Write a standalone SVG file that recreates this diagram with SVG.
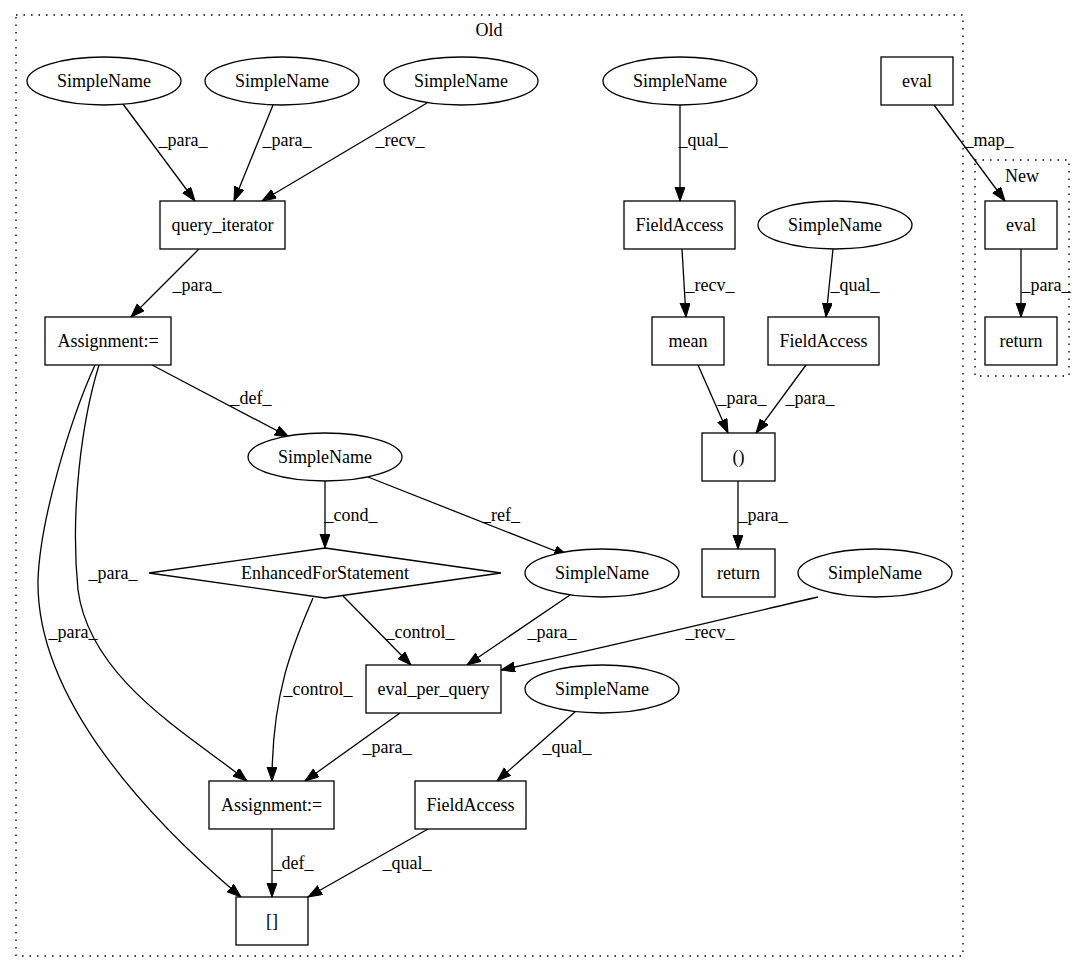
<svg xmlns="http://www.w3.org/2000/svg" width="1085" height="972" viewBox="0 0 1085 972">
<style>
text{font-family:"Liberation Serif","Times New Roman",serif;font-size:18px;fill:#000}
.n text{text-anchor:middle;dominant-baseline:central}
.e text{text-anchor:middle}
.n rect,.n ellipse,.n polygon{fill:#fff;stroke:#000;stroke-width:1.3}
.e path{fill:none;stroke:#000;stroke-width:1.3}
.cl{fill:none;stroke:#000;stroke-width:1.4;stroke-dasharray:1.5 6}
</style>
<defs>
<marker id="ah" markerUnits="userSpaceOnUse" markerWidth="15" markerHeight="11" refX="14" refY="5" orient="auto" viewBox="0 0 15 11">
<path d="M0,0 L14,5 L0,10 z" fill="#000" stroke="#000" stroke-width="1"/>
</marker>
</defs>
<rect width="1085" height="972" fill="#fff"/>
<g id="cluster_old"><rect class="cl" x="16" y="15" width="947" height="941"/><text x="489" y="36" text-anchor="middle">Old</text></g>
<g id="cluster_new"><rect class="cl" x="975" y="160" width="94" height="216"/><text x="1022" y="182" text-anchor="middle">New</text></g>

<g id="edges" class="e">
<path marker-end="url(#ah)" d="M123,104 L195,201"/>
<path marker-end="url(#ah)" d="M273,105 L234,201"/>
<path marker-end="url(#ah)" d="M427,103 L262,201"/>
<path marker-end="url(#ah)" d="M199,249 L131,317"/>
<path marker-end="url(#ah)" d="M152,365 L289,437"/>
<path marker-end="url(#ah)" d="M325,481 L325,548"/>
<path marker-end="url(#ah)" d="M368,477 L568,556"/>
<path marker-end="url(#ah)" d="M343,596 L411,665"/>
<path marker-end="url(#ah)" d="M570,595 L467,665"/>
<path marker-end="url(#ah)" d="M818,597 C760,610 640,640 501,670"/>
<path marker-end="url(#ah)" d="M313,598 C295,640 272,690 272,781"/>
<path marker-end="url(#ah)" d="M99,365 C82,420 70,510 78,590 C90,680 190,735 247,781"/>
<path marker-end="url(#ah)" d="M95,365 C70,420 40,520 38,580 C36,700 150,820 241,897"/>
<path marker-end="url(#ah)" d="M400,713 L305,781"/>
<path marker-end="url(#ah)" d="M576,711 L497,781"/>
<path marker-end="url(#ah)" d="M272,829 L272,897"/>
<path marker-end="url(#ah)" d="M428,829 L308,897"/>
<path marker-end="url(#ah)" d="M680,105 L680,201"/>
<path marker-end="url(#ah)" d="M682,249 L686,317"/>
<path marker-end="url(#ah)" d="M833,249 L826,317"/>
<path marker-end="url(#ah)" d="M698,365 L728,433"/>
<path marker-end="url(#ah)" d="M806,365 L756,433"/>
<path marker-end="url(#ah)" d="M738,481 L738,549"/>
<path marker-end="url(#ah)" d="M934,105 L1005,201"/>
<path marker-end="url(#ah)" d="M1021,249 L1021,317"/>
<text x="183" y="146">_para_</text>
<text x="287" y="146">_para_</text>
<text x="400" y="146">_recv_</text>
<text x="197" y="291">_para_</text>
<text x="251" y="404">_def_</text>
<text x="351" y="521">_cond_</text>
<text x="501" y="521">_ref_</text>
<text x="420" y="638">_control_</text>
<text x="552" y="638">_para_</text>
<text x="710" y="638">_recv_</text>
<text x="318" y="695">_control_</text>
<text x="113" y="579">_para_</text>
<text x="73" y="638">_para_</text>
<text x="387" y="753">_para_</text>
<text x="567" y="753">_qual_</text>
<text x="293" y="869">_def_</text>
<text x="407" y="869">_qual_</text>
<text x="703" y="146">_qual_</text>
<text x="710" y="291">_recv_</text>
<text x="855" y="291">_qual_</text>
<text x="742" y="404">_para_</text>
<text x="810" y="404">_para_</text>
<text x="763" y="521">_para_</text>
<text x="989" y="146">_map_</text>
<text x="1046" y="291">_para_</text>
</g>

<g id="n_sn1" class="n"><ellipse cx="104" cy="81" rx="77" ry="24"/><text x="104" y="81">SimpleName</text></g>
<g id="n_sn2" class="n"><ellipse cx="282" cy="81" rx="77" ry="24"/><text x="282" y="81">SimpleName</text></g>
<g id="n_sn3" class="n"><ellipse cx="461" cy="81" rx="77" ry="24"/><text x="461" y="81">SimpleName</text></g>
<g id="n_qi" class="n"><rect x="160" y="201" width="125" height="48"/><text x="222.5" y="225">query_iterator</text></g>
<g id="n_asg1" class="n"><rect x="45" y="317" width="126" height="48"/><text x="108" y="341">Assignment:=</text></g>
<g id="n_sndef" class="n"><ellipse cx="325" cy="457" rx="77" ry="24"/><text x="325" y="457">SimpleName</text></g>
<g id="n_efs" class="n"><polygon points="325,548 501,573 325,598 149,573"/><text x="325" y="573">EnhancedForStatement</text></g>
<g id="n_snref" class="n"><ellipse cx="602" cy="573" rx="77" ry="24"/><text x="602" y="573">SimpleName</text></g>
<g id="n_snrecv" class="n"><ellipse cx="875" cy="573" rx="77" ry="24"/><text x="875" y="573">SimpleName</text></g>
<g id="n_epq" class="n"><rect x="366" y="665" width="135" height="48"/><text x="433.5" y="689">eval_per_query</text></g>
<g id="n_snqual" class="n"><ellipse cx="602" cy="689" rx="77" ry="24"/><text x="602" y="689">SimpleName</text></g>
<g id="n_asg2" class="n"><rect x="209" y="781" width="125" height="48"/><text x="271.5" y="805">Assignment:=</text></g>
<g id="n_fa3" class="n"><rect x="415" y="781" width="111" height="48"/><text x="470.5" y="805">FieldAccess</text></g>
<g id="n_idx" class="n"><rect x="236" y="897" width="72" height="48"/><text x="272" y="921">[]</text></g>
<g id="n_sn4" class="n"><ellipse cx="680" cy="81" rx="77" ry="24"/><text x="680" y="81">SimpleName</text></g>
<g id="n_fa1" class="n"><rect x="624" y="201" width="111" height="48"/><text x="679.5" y="225">FieldAccess</text></g>
<g id="n_sn5" class="n"><ellipse cx="835" cy="225" rx="77" ry="24"/><text x="835" y="225">SimpleName</text></g>
<g id="n_mean" class="n"><rect x="652" y="317" width="72" height="48"/><text x="688" y="341">mean</text></g>
<g id="n_fa2" class="n"><rect x="768" y="317" width="111" height="48"/><text x="823.5" y="341">FieldAccess</text></g>
<g id="n_paren" class="n"><rect x="702" y="433" width="73" height="48"/><text x="738.5" y="457">()</text></g>
<g id="n_ret1" class="n"><rect x="702" y="549" width="73" height="48"/><text x="738.5" y="573">return</text></g>
<g id="n_eval1" class="n"><rect x="881" y="57" width="72" height="48"/><text x="917" y="81">eval</text></g>
<g id="n_eval2" class="n"><rect x="985" y="201" width="72" height="48"/><text x="1021" y="225">eval</text></g>
<g id="n_ret2" class="n"><rect x="985" y="317" width="72" height="48"/><text x="1021" y="341">return</text></g>
</svg>
